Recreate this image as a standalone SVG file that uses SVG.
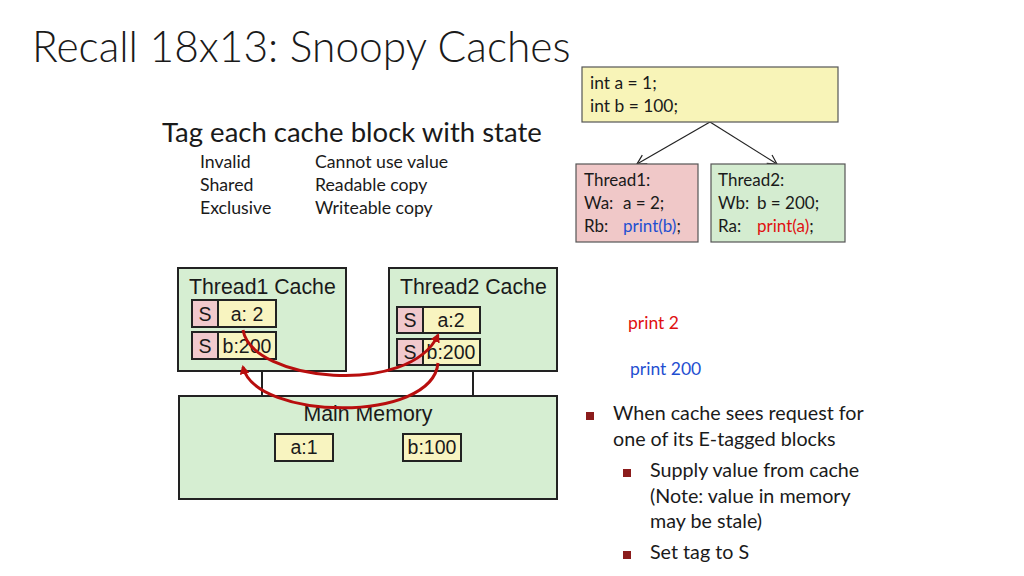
<svg xmlns="http://www.w3.org/2000/svg" width="1024" height="576" viewBox="0 0 1024 576">
<style>
.cal{font-family:Lato,"Open Sans","Liberation Sans",sans-serif;fill:#1a1a1a}
.hel{font-family:"Liberation Sans",Arial,sans-serif;fill:#1a1a1a}
.box{fill:#d6eed2;stroke:#222;stroke-width:2}
.tag{fill:#f1c9cd;stroke:#222;stroke-width:2}
.val{fill:#f8f4c0;stroke:#222;stroke-width:2}
.bus{stroke:#222;stroke-width:2;fill:none}
.red{fill:none;stroke:#b80e0e;stroke-width:3}
.thin{stroke:#222;stroke-width:1.2;fill:none}
.bul{fill:#8b1c1c}
</style>
<defs>
<marker id="ah" markerWidth="10" markerHeight="10" refX="7" refY="5" orient="auto" markerUnits="userSpaceOnUse"><path d="M0,0 L9,5 L0,10 z" fill="#b80e0e"/></marker>
<marker id="oa" markerWidth="12" markerHeight="12" refX="10" refY="6" orient="auto" markerUnits="userSpaceOnUse"><path d="M1,1 L10,6 L1,11" fill="none" stroke="#222" stroke-width="1.2"/></marker>
</defs>
<text class="cal" x="32" y="62" font-size="42.5" font-weight="300">Recall 18x13: Snoopy Caches</text>
<g id="legend">
<text class="cal" x="162" y="142" font-size="27.5">Tag each cache block with state</text>
<text class="cal" x="200" y="168" font-size="17.7">Invalid</text>
<text class="cal" x="200" y="191" font-size="17.7">Shared</text>
<text class="cal" x="200" y="214" font-size="17.7">Exclusive</text>
<text class="cal" x="315" y="168" font-size="17.7">Cannot use value</text>
<text class="cal" x="315" y="191" font-size="17.7">Readable copy</text>
<text class="cal" x="315" y="214" font-size="17.7">Writeable copy</text>
</g>
<g id="connectors">
<line class="thin" x1="710" y1="122" x2="637" y2="164" marker-end="url(#oa)"/>
<line class="thin" x1="710" y1="122" x2="777" y2="164" marker-end="url(#oa)"/>
<line class="bus" x1="262" y1="371" x2="262" y2="396"/>
<line class="bus" x1="473" y1="371" x2="473" y2="396"/>
</g>
<g id="init">
<rect x="582" y="67" width="256" height="55" fill="#f8f4b8" stroke="#555" stroke-width="1.2"/>
<text class="cal" x="590" y="89" font-size="17.4">int a = 1;</text>
<text class="cal" x="590" y="112" font-size="17.4">int b = 100;</text>
</g>
<g id="thread1">
<rect x="576" y="164" width="122" height="78" fill="#f0c8c8" stroke="#555" stroke-width="1.2"/>
<text class="cal" x="584" y="186" font-size="17">Thread1:</text>
<text class="cal" y="209" font-size="17"><tspan x="584">Wa:</tspan><tspan x="623">a = 2;</tspan></text>
<text class="cal" y="232" font-size="17"><tspan x="584">Rb:</tspan><tspan x="623" fill="#1f4fd1">print(b)</tspan>;</text>
</g>
<g id="thread2">
<rect x="711" y="164" width="134" height="78" fill="#d4ecd0" stroke="#555" stroke-width="1.2"/>
<text class="cal" x="718" y="186" font-size="17">Thread2:</text>
<text class="cal" y="209" font-size="17"><tspan x="718">Wb:</tspan><tspan x="757">b = 200;</tspan></text>
<text class="cal" y="232" font-size="17"><tspan x="718">Ra:</tspan><tspan x="757" fill="#e01010">print(a)</tspan>;</text>
</g>
<g id="t1cache">
<rect class="box" x="178" y="268" width="168" height="103"/>
<text class="hel" x="189" y="294" font-size="21.3">Thread1 Cache</text>
<rect class="tag" x="192" y="300" width="26" height="27"/>
<rect class="val" x="218" y="300" width="58" height="27"/>
<text class="hel" x="205" y="321" font-size="19.5" text-anchor="middle">S</text>
<text class="hel" x="247" y="321" font-size="19.5" text-anchor="middle">a: 2</text>
<rect class="tag" x="192" y="332" width="26" height="27"/>
<rect class="val" x="218" y="332" width="58" height="27"/>
<text class="hel" x="205" y="353" font-size="19.5" text-anchor="middle">S</text>
<text class="hel" x="247" y="353" font-size="19.5" text-anchor="middle">b:200</text>
</g>
<g id="t2cache">
<rect class="box" x="389" y="268" width="168" height="103"/>
<text class="hel" x="400" y="294" font-size="21.3">Thread2 Cache</text>
<rect class="tag" x="397" y="307" width="26" height="26"/>
<rect class="val" x="423" y="307" width="57" height="26"/>
<text class="hel" x="410" y="327" font-size="19.5" text-anchor="middle">S</text>
<text class="hel" x="451" y="327" font-size="19.5" text-anchor="middle">a:2</text>
<rect class="tag" x="397" y="339" width="26" height="26"/>
<rect class="val" x="423" y="339" width="57" height="26"/>
<text class="hel" x="410" y="359" font-size="19.5" text-anchor="middle">S</text>
<text class="hel" x="451" y="359" font-size="19.5" text-anchor="middle">b:200</text>
</g>
<g id="memory">
<rect class="box" x="179" y="396" width="378" height="103"/>
<text class="hel" x="368" y="421" font-size="21.3" text-anchor="middle">Main Memory</text>
<rect class="val" x="275" y="434" width="58" height="27"/>
<text class="hel" x="304" y="454" font-size="19.5" text-anchor="middle">a:1</text>
<rect class="val" x="403" y="434" width="58" height="27"/>
<text class="hel" x="432" y="454" font-size="19.5" text-anchor="middle">b:100</text>
</g>
<g id="snoop-arrows">
<path class="red" d="M243,330 C252,382 410,397 438,335" marker-end="url(#ah)"/>
<path class="red" d="M438,363 C432,424 255,420 243,367" marker-end="url(#ah)"/>
</g>
<text class="cal" x="628" y="329" font-size="17.5" style="fill:#e01010">print 2</text>
<text class="cal" x="630" y="375" font-size="17.5" style="fill:#1f4fd1">print 200</text>
<g id="bullets">
<rect class="bul" x="586" y="412" width="8" height="8"/>
<text class="cal" x="613" y="420" font-size="19.7">When cache sees request for</text>
<text class="cal" x="613" y="446" font-size="19.7">one of its E-tagged blocks</text>
<rect class="bul" x="623" y="469" width="8" height="8"/>
<text class="cal" x="650" y="477" font-size="19.7">Supply value from cache</text>
<text class="cal" x="650" y="503" font-size="19.7">(Note: value in memory</text>
<text class="cal" x="650" y="528" font-size="19.7">may be stale)</text>
<rect class="bul" x="623" y="551" width="8" height="8"/>
<text class="cal" x="650" y="559" font-size="19.7">Set tag to S</text>
</g>
</svg>
